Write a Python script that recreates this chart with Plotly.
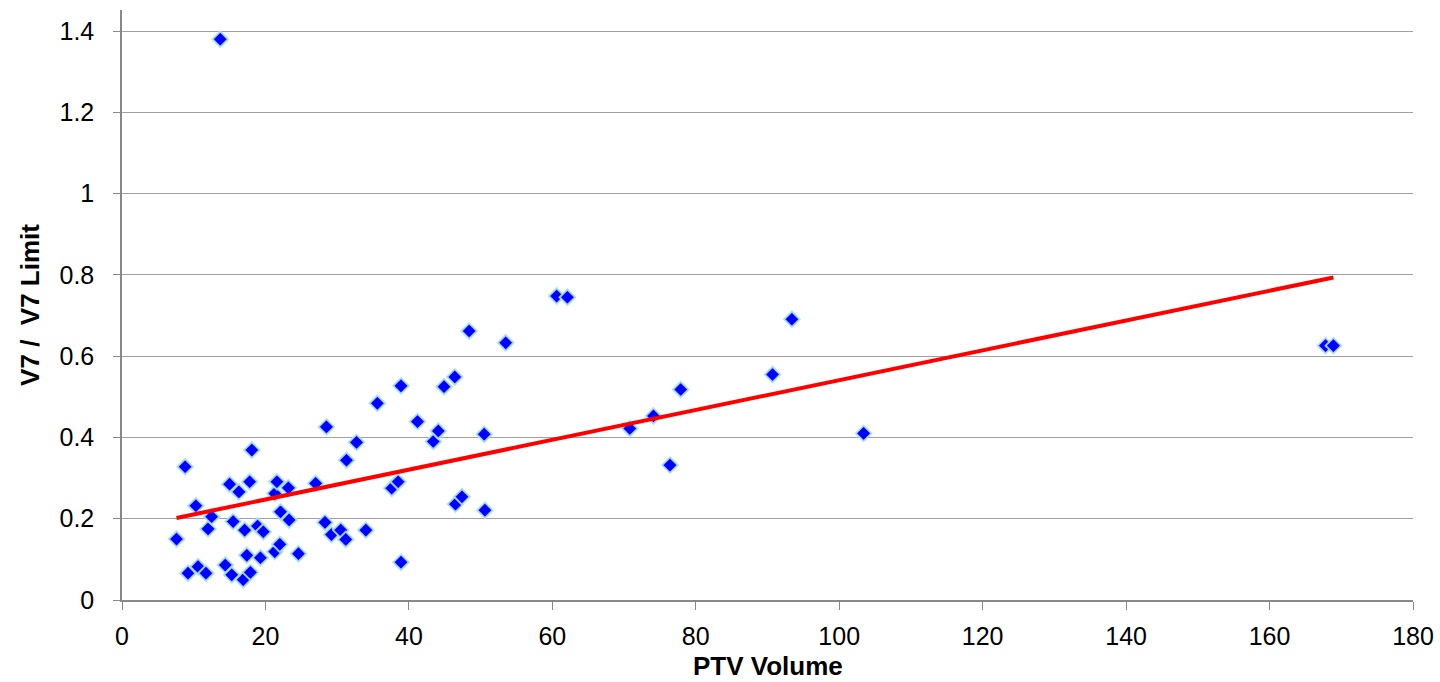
import plotly.graph_objects as go

# PTV volume vs. V7 / V7 limit ratio
ptv_volume = [
    13.7, 7.6, 8.8, 9.2, 10.3, 10.6, 11.7, 12.0, 12.5, 14.4,
    15.0, 15.3, 15.5, 16.3, 16.9, 17.1, 17.4, 17.8, 17.9, 18.1,
    18.9, 19.3, 19.7, 21.3, 21.3, 21.6, 22.0, 22.1, 23.2, 23.3,
    24.6, 27.0, 28.3, 28.5, 29.2, 30.5, 31.2, 31.3, 32.7, 34.0,
    35.6, 37.6, 38.5, 38.9, 38.9, 41.2, 43.4, 44.1, 44.9, 46.4,
    46.5, 47.4, 48.4, 50.5, 50.6, 53.5, 60.6, 62.1, 70.8, 74.1,
    76.4, 77.9, 90.7, 93.4, 103.4, 167.8, 168.9,
]
v7_ratio = [
    1.380, 0.150, 0.328, 0.066, 0.232, 0.082, 0.066, 0.175, 0.205, 0.086,
    0.285, 0.062, 0.193, 0.266, 0.050, 0.172, 0.110, 0.291, 0.068, 0.369,
    0.182, 0.104, 0.168, 0.119, 0.262, 0.291, 0.137, 0.217, 0.276, 0.197,
    0.114, 0.287, 0.191, 0.426, 0.161, 0.172, 0.149, 0.344, 0.388, 0.172,
    0.484, 0.275, 0.291, 0.527, 0.093, 0.439, 0.390, 0.416, 0.525, 0.549,
    0.236, 0.254, 0.662, 0.408, 0.221, 0.633, 0.748, 0.745, 0.422, 0.453,
    0.332, 0.518, 0.555, 0.691, 0.410, 0.626, 0.626,
]

# Linear trend line coefficients
trend_slope = 0.00367
trend_intercept = 0.174

x_ticks = [0, 20, 40, 60, 80, 100, 120, 140, 160, 180]
y_ticks = [0, 0.2, 0.4, 0.6, 0.8, 1, 1.2, 1.4]
y_tick_text = ["0", "0.2", "0.4", "0.6", "0.8", "1", "1.2", "1.4"]

trend_x = [min(ptv_volume), max(ptv_volume)]
trend_y = [trend_intercept + trend_slope * v for v in trend_x]

fig = go.Figure()
fig.add_trace(go.Scatter(
    x=ptv_volume, y=v7_ratio, mode="markers",
    marker=dict(symbol="diamond", size=12, color="#0000FF",
                line=dict(color="rgba(175,225,238,0.9)", width=2)),
    showlegend=False, hoverinfo="x+y",
))
fig.add_trace(go.Scatter(
    x=trend_x, y=trend_y, mode="lines",
    line=dict(color="#FF0000", width=4),
    showlegend=False, hoverinfo="skip",
))

axis_font = dict(family="Liberation Sans, Arial, sans-serif", size=25, color="#000000")
title_font = dict(family="Liberation Sans, Arial, sans-serif", size=26, color="#000000")

fig.update_layout(
    width=1440, height=682,
    margin=dict(l=122, r=27, t=10, b=82),
    paper_bgcolor="#FFFFFF", plot_bgcolor="#FFFFFF",
    xaxis=dict(
        range=[0, 180], tickvals=x_ticks, ticks="outside", ticklen=8,
        tickcolor="#888888", showline=True, linecolor="#888888", linewidth=1.5,
        showgrid=False, zeroline=False, tickfont=axis_font,
        ticklabelstandoff=5, automargin=False,
    ),
    yaxis=dict(
        range=[0, 1.452], tickvals=y_ticks, ticktext=y_tick_text,
        ticks="outside", ticklen=7, tickcolor="#888888",
        showline=True, linecolor="#888888", linewidth=1.5,
        showgrid=True, gridcolor="#A0A0A0", gridwidth=1.2, zeroline=False,
        tickfont=axis_font, ticklabelstandoff=14, automargin=False,
        title=dict(text="<b>V7 /  V7 Limit</b>", font=title_font, standoff=12),
    ),
    annotations=[dict(
        text="<b>PTV Volume</b>", font=title_font, showarrow=False,
        xref="paper", yref="paper", x=0.5, y=-0.112,
        xanchor="center", yanchor="middle", borderpad=0,
    )],
)

fig.write_html("out.html")
